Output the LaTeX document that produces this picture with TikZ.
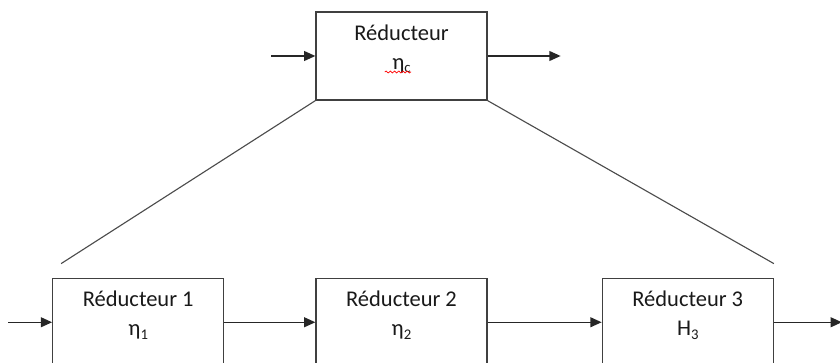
\documentclass[tikz,border=0pt]{standalone}
\usepackage{fontspec}
\setmainfont{Carlito}
\usetikzlibrary{arrows.meta,positioning,decorations.pathmorphing}

% petit indice abaisse
\newcommand{\indice}[1]{\raisebox{-0.3ex}{\fontsize{10.5}{10.5}\selectfont #1}}

\begin{document}
\begin{tikzpicture}[node distance=2cm,
    bloc/.style={draw=black!75, line width=0.9pt, minimum width=4.275cm, minimum height=2.2cm},
    texte/.style={align=center, inner sep=0pt, text=black!90, font=\fontsize{16}{21}\selectfont},
    trait/.style={draw=black!70, line width=0.8pt},
    fleche/.style={color=black!85, line width=1pt, -{Triangle[length=8pt,width=7pt]}}]
  \useasboundingbox (0,0) rectangle (21,-9.075);
  % reducteur global
  \node[bloc] (red) at (10.0375,-1.4) {};
  \node[texte] (t0) [below=0.32cm of red.north] {Réducteur\\η\indice{c}};
  \draw[red, line width=0.5pt, decorate, decoration={snake, amplitude=0.7pt, segment length=3pt}]
    (9.62,-1.8) -- (10.28,-1.8);
  % les trois etages
  \node[bloc] (r2) [below=4.425cm of red] {};
  \node[bloc] (r1) [left=2.275cm of r2] {};
  \node[bloc] (r3) [right=2.85cm of r2] {};
  \node[texte] (t1) [below=0.32cm of r1.north] {Réducteur 1\\η\indice{1}};
  \node[texte] (t2) [below=0.32cm of r2.north] {Réducteur 2\\η\indice{2}};
  \node[texte] (t3) [below=0.32cm of r3.north] {Réducteur 3\\H\indice{3}};
  % entrees et sorties
  \coordinate[left=1.1cm of red] (e0);
  \coordinate[right=1.825cm of red] (s0);
  \coordinate[left=1.1cm of r1] (e1);
  \coordinate[right=1.7cm of r3] (s3);
  \coordinate[above right=0.35cm and 0.225cm of r1.north west] (g);
  \coordinate[above=0.35cm of r3.north east] (d);
  \path[fleche]
    (e0) edge (red)
    (red) edge (s0)
    (e1) edge (r1)
    (r1) edge (r2)
    (r2) edge (r3)
    (r3) edge (s3);
  \draw[trait] (red.south west) -- (g);
  \draw[trait] (red.south east) -- (d);
\end{tikzpicture}
\end{document}
